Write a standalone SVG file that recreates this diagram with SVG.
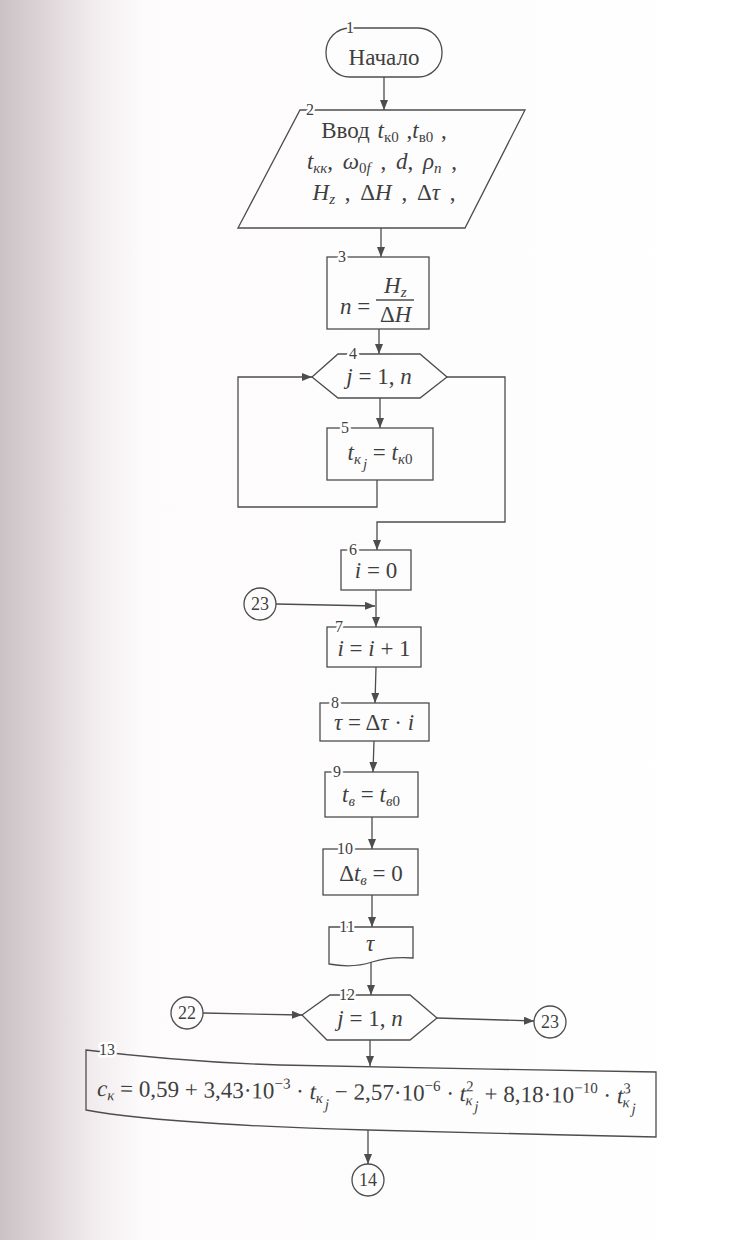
<svg xmlns="http://www.w3.org/2000/svg" width="755" height="1240" viewBox="0 0 755 1240" font-family="Liberation Serif, Times New Roman, serif">
<defs>
<linearGradient id="bg" x1="0" y1="0" x2="755" y2="0" gradientUnits="userSpaceOnUse">
<stop offset="0" stop-color="#cbc2c5"/>
<stop offset="0.05" stop-color="#dbd2d5"/>
<stop offset="0.12" stop-color="#f1ebed"/>
<stop offset="0.19" stop-color="#fdfbfc"/>
<stop offset="1" stop-color="#ffffff"/>
</linearGradient>
<marker id="ah" viewBox="0 0 10 8" refX="10" refY="4" markerWidth="10" markerHeight="8" markerUnits="userSpaceOnUse" orient="auto">
<path d="M0,0 L10,4 L0,8 Z" fill="#4d4d4d"/>
</marker>
<style>
.s{fill:none;stroke:#4d4d4d;stroke-width:1.3}
.c{fill:none;stroke:#4d4d4d;stroke-width:1.3}
.a{fill:none;stroke:#4d4d4d;stroke-width:1.3;marker-end:url(#ah)}
.t{font-size:23px;fill:#3f3f3f}
.m{font-style:italic}
.u{font-size:15px}
.w{word-spacing:4px}
.w2{word-spacing:2px}
.n{font-size:16px;fill:#3f3f3f;text-anchor:middle;stroke:#fff;stroke-width:5px;paint-order:stroke;stroke-linejoin:round}
.cl{font-size:18px;fill:#3f3f3f;text-anchor:middle}
</style>
</defs>
<rect x="0" y="0" width="755" height="1240" fill="url(#bg)"/>

<g id="connectors">
<path class="a" d="M384,77 V110"/>
<path class="a" d="M381,228 V257"/>
<path class="a" d="M379,329 V354"/>
<path class="a" d="M380,398 V428"/>
<path class="a" d="M377,480 V507 H238 V377 H312"/>
<path class="a" d="M447,377 H505 V522 H377 V550"/>
<path class="a" d="M376,590 V627"/>
<path class="a" d="M276,604 L375,606"/>
<path class="a" d="M376,667 L375,703"/>
<path class="a" d="M374,741 L373,772"/>
<path class="a" d="M372,817 V849"/>
<path class="a" d="M372,895 V927"/>
<path class="a" d="M371,962 V995"/>
<path class="a" d="M203,1013 L302,1015"/>
<path class="a" d="M437,1018 L534,1021"/>
<path class="a" d="M370,1040 V1066"/>
<path class="a" d="M368,1130 V1164"/>
</g>

<g id="n1">
<rect class="s" x="326" y="28" width="116" height="49" rx="24" ry="24"/>
<text class="n" x="350" y="33">1</text>
<text class="t" x="384" y="65" text-anchor="middle" font-size="24">Начало</text>
</g>

<g id="n2">
<polygon class="s" points="300,110 525,110 465,228 238,228"/>
<text class="n" x="310" y="115">2</text>
<text class="t w2" x="384" y="138" text-anchor="middle">Ввод <tspan class="m">t</tspan><tspan class="u" dy="4">к0</tspan><tspan dy="-4"> ,</tspan><tspan class="m">t</tspan><tspan class="u" dy="4">в0</tspan><tspan dy="-4"> ,</tspan></text>
<text class="t w" x="382" y="169" text-anchor="middle"><tspan class="m">t</tspan><tspan class="u m" dy="4">кк</tspan><tspan dy="-4">, </tspan><tspan class="m">ω</tspan><tspan class="u" dy="4">0<tspan class="m">f</tspan></tspan><tspan dy="-4"> , </tspan><tspan class="m">d</tspan>, <tspan class="m">ρ</tspan><tspan class="u m" dy="4">п</tspan><tspan dy="-4"> ,</tspan></text>
<text class="t w" x="384" y="200" text-anchor="middle"><tspan class="m">H</tspan><tspan class="u m" dy="4">z</tspan><tspan dy="-4"> , Δ</tspan><tspan class="m">H</tspan> , Δ<tspan class="m">τ</tspan> ,</text>
</g>

<g id="n3">
<rect class="s" x="327" y="257" width="102" height="72"/>
<text class="n" x="342" y="262">3</text>
<text class="t" x="340" y="314"><tspan class="m">n</tspan> =</text>
<text class="t m" x="384" y="293">H<tspan class="u" dy="4">z</tspan></text>
<line class="c" x1="376" y1="300" x2="414" y2="300"/>
<text class="t" x="380" y="322">Δ<tspan class="m">H</tspan></text>
</g>

<g id="n4">
<polygon class="s" points="312,377 338,354 420,354 447,377 420,398 338,398"/>
<text class="n" x="353" y="359">4</text>
<text class="t" x="379" y="384" text-anchor="middle"><tspan class="m">j</tspan> = 1, <tspan class="m">n</tspan></text>
</g>

<g id="n5">
<rect class="s" x="327" y="428" width="106" height="52"/>
<text class="n" x="345" y="433">5</text>
<text class="t" x="380" y="460" text-anchor="middle"><tspan class="m">t</tspan><tspan class="u m" dy="4">к</tspan><tspan class="u m" dy="5" dx="2">j</tspan><tspan dy="-9"> = </tspan><tspan class="m">t</tspan><tspan class="u m" dy="4">к</tspan><tspan class="u">0</tspan></text>
</g>

<g id="n6">
<rect class="s" x="341" y="550" width="70" height="40"/>
<text class="n" x="353" y="555">6</text>
<text class="t" x="376" y="578" text-anchor="middle"><tspan class="m">i</tspan> = 0</text>
</g>

<g id="c23a">
<circle class="c" cx="260" cy="604" r="16"/>
<text class="cl" x="260" y="610">23</text>
</g>

<g id="n7">
<rect class="s" x="327" y="627" width="94" height="40"/>
<text class="n" x="339" y="632">7</text>
<text class="t" x="374" y="656" text-anchor="middle"><tspan class="m">i</tspan> = <tspan class="m">i</tspan> + 1</text>
</g>

<g id="n8">
<rect class="s" x="320" y="703" width="109" height="38"/>
<text class="n" x="335" y="708">8</text>
<text class="t" x="374" y="730" text-anchor="middle"><tspan class="m">τ</tspan> = Δ<tspan class="m">τ</tspan> · <tspan class="m">i</tspan></text>
</g>

<g id="n9">
<rect class="s" x="325" y="772" width="93" height="45"/>
<text class="n" x="337" y="777">9</text>
<text class="t" x="371" y="802" text-anchor="middle"><tspan class="m">t</tspan><tspan class="u m" dy="4">в</tspan><tspan dy="-4"> = </tspan><tspan class="m">t</tspan><tspan class="u" dy="4"><tspan class="m">в</tspan>0</tspan></text>
</g>

<g id="n10">
<rect class="s" x="323" y="849" width="95" height="46"/>
<text class="n" x="345" y="854">10</text>
<text class="t" x="371" y="881" text-anchor="middle">Δ<tspan class="m">t</tspan><tspan class="u m" dy="4">в</tspan><tspan dy="-4"> = 0</tspan></text>
</g>

<g id="n11">
<path class="s" d="M329,927 H413 V958 C400,957 385,958 372,962 C360,966 345,967 329,964 Z"/>
<text class="n" x="347" y="932">11</text>
<text class="t m" x="370" y="951" text-anchor="middle">τ</text>
</g>

<g id="c22">
<circle class="c" cx="187" cy="1013" r="16"/>
<text class="cl" x="187" y="1019">22</text>
</g>

<g id="n12">
<polygon class="s" points="302,1015 330,995 410,995 437,1018 410,1040 327,1040"/>
<text class="n" x="347" y="1000">12</text>
<text class="t" x="370" y="1026" text-anchor="middle"><tspan class="m">j</tspan> = 1, <tspan class="m">n</tspan></text>
</g>

<g id="c23b">
<circle class="c" cx="550" cy="1022" r="16"/>
<text class="cl" x="550" y="1028">23</text>
</g>

<g id="n13">
<path class="s" d="M86,1050 C150,1058 220,1063 280,1065 S550,1070 656,1072 V1137 C560,1135 450,1132 368,1130 S150,1122 86,1110 Z"/>
<text class="n" x="107" y="1055">13</text>
<text class="t" x="97" y="1096" transform="rotate(0.8 97 1096)"><tspan class="m">c</tspan><tspan class="u m" dy="4">к</tspan><tspan dy="-4"> = 0,59 + 3,43·10</tspan><tspan class="u" dy="-10">−3</tspan><tspan dy="10"> · </tspan><tspan class="m">t</tspan><tspan class="u m" dy="4">к</tspan><tspan class="u m" dy="6" dx="2">j</tspan><tspan dy="-10"> − 2,57·10</tspan><tspan class="u" dy="-10">−6</tspan><tspan dy="10"> · </tspan><tspan class="m">t</tspan><tspan class="u" dy="-10">2</tspan><tspan class="u m" dx="-8" dy="14">к</tspan><tspan class="u m" dy="6" dx="2">j</tspan><tspan dy="-10"> + 8,18·10</tspan><tspan class="u" dy="-10">−10</tspan><tspan dy="10"> · </tspan><tspan class="m">t</tspan><tspan class="u" dy="-10">3</tspan><tspan class="u m" dx="-8" dy="14">к</tspan><tspan class="u m" dy="6" dx="2">j</tspan></text>
</g>

<g id="c14">
<circle class="c" cx="368" cy="1180" r="16"/>
<text class="cl" x="368" y="1186">14</text>
</g>
</svg>
